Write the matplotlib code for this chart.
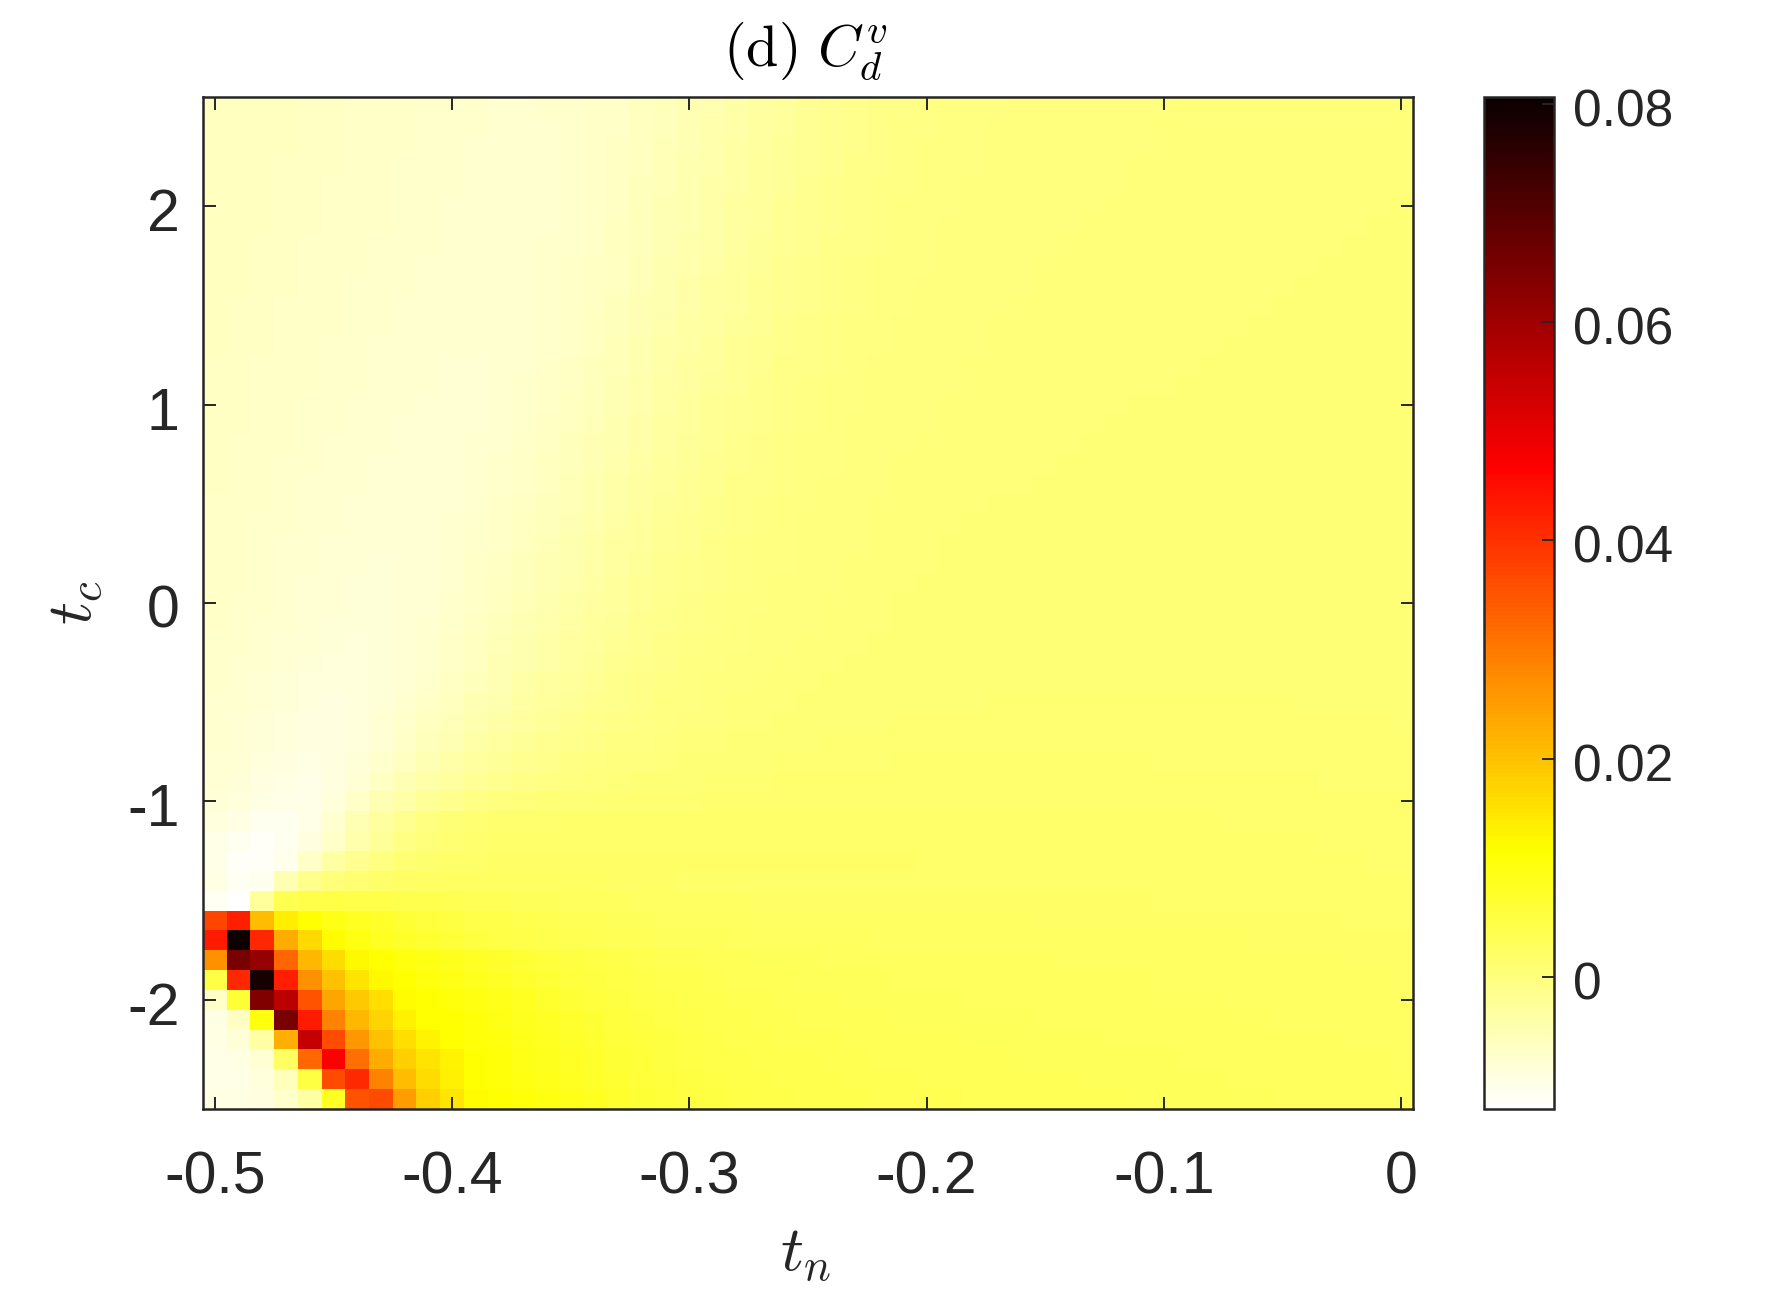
import numpy as np
import matplotlib
matplotlib.use("Agg")
import matplotlib.pyplot as plt
from matplotlib.transforms import ScaledTranslation

# grid of the scan
tn = [round(-0.50 + 0.01 * i, 2) for i in range(51)]
tc = [round(2.5 - 0.1 * i, 1) for i in range(51)]

# C_d^v in units of 1e-4, rows run from tc = 2.5 down to tc = -2.5
cd_rows = [
    [-60,-61,-62,-63,-64,-65,-67,-68,-70,-71, -72,-73,-74,-74,-73,-72,-70,-67,-62,-57, -51,-45,-39,-33,-28,-23,-19,-15,-12,-9, -7,-5,-3,-2,-1,0,0,1,1,2, 2,3,3,3,3,4,4,4,4,5,5],
    [-60,-61,-62,-63,-64,-65,-67,-68,-70,-71, -72,-73,-74,-74,-74,-72,-70,-67,-62,-56, -50,-44,-38,-32,-27,-22,-18,-14,-11,-8, -6,-4,-3,-1,0,0,1,1,2,2, 3,3,3,3,4,4,4,4,5,5,5],
    [-60,-61,-62,-63,-65,-66,-67,-69,-70,-71, -73,-74,-74,-75,-74,-72,-70,-66,-61,-55, -49,-43,-37,-31,-26,-21,-17,-13,-10,-8, -5,-4,-2,-1,0,1,1,2,2,2, 3,3,3,4,4,4,4,5,5,5,5],
    [-60,-61,-62,-64,-65,-66,-68,-69,-71,-72, -73,-74,-75,-75,-74,-72,-69,-65,-60,-54, -48,-42,-36,-30,-25,-20,-16,-12,-9,-7, -5,-3,-2,0,0,1,1,2,2,3, 3,3,3,4,4,4,4,5,5,5,5],
    [-60,-61,-63,-64,-65,-67,-68,-70,-71,-72, -73,-75,-75,-75,-74,-72,-69,-65,-59,-53, -47,-41,-35,-29,-24,-19,-15,-11,-8,-6, -4,-3,-1,0,1,1,2,2,2,3, 3,3,4,4,4,4,5,5,5,5,5],
    [-61,-62,-63,-64,-66,-67,-69,-70,-71,-73, -74,-75,-75,-75,-74,-72,-68,-64,-58,-52, -46,-40,-34,-28,-23,-18,-14,-11,-8,-5, -3,-2,-1,0,1,2,2,2,3,3, 3,4,4,4,4,5,5,5,5,5,6],
    [-61,-62,-63,-65,-66,-68,-69,-70,-72,-73, -74,-75,-76,-75,-74,-71,-68,-63,-57,-51, -45,-39,-33,-27,-22,-17,-13,-10,-7,-5, -3,-1,0,1,1,2,2,3,3,3, 4,4,4,4,5,5,5,5,5,6,6],
    [-61,-62,-64,-65,-67,-68,-69,-71,-72,-73, -75,-76,-76,-75,-73,-71,-67,-62,-56,-50, -44,-38,-32,-26,-21,-16,-12,-9,-6,-4, -2,-1,0,1,2,2,3,3,3,4, 4,4,4,5,5,5,5,5,6,6,6],
    [-62,-63,-64,-66,-67,-69,-70,-71,-73,-74, -75,-76,-76,-75,-73,-70,-66,-61,-55,-48, -42,-36,-30,-24,-19,-15,-11,-8,-5,-3, -2,0,1,1,2,3,3,3,4,4, 4,4,5,5,5,5,5,6,6,6,6],
    [-62,-63,-65,-66,-68,-69,-71,-72,-73,-75, -76,-76,-76,-75,-73,-70,-65,-60,-53,-47, -40,-34,-28,-23,-18,-14,-10,-7,-4,-3, -1,0,1,2,2,3,3,4,4,4, 4,5,5,5,5,5,6,6,6,6,6],
    [-62,-64,-65,-67,-68,-70,-71,-73,-74,-75, -76,-77,-76,-75,-72,-69,-64,-58,-52,-45, -39,-32,-27,-22,-17,-13,-9,-6,-4,-2, -1,1,1,2,3,3,4,4,4,4, 5,5,5,5,5,6,6,6,6,6,6],
    [-63,-64,-66,-67,-69,-70,-72,-73,-75,-76, -77,-77,-76,-74,-72,-68,-63,-57,-50,-43, -37,-31,-25,-20,-15,-11,-8,-5,-3,-1, 0,1,2,3,3,4,4,4,4,5, 5,5,5,5,6,6,6,6,6,6,6],
    [-63,-65,-66,-68,-69,-71,-72,-74,-75,-76, -77,-77,-76,-74,-71,-67,-61,-55,-48,-41, -35,-29,-23,-18,-14,-10,-7,-4,-2,0, 1,2,2,3,4,4,4,4,5,5, 5,5,5,6,6,6,6,6,6,6,6],
    [-64,-65,-67,-68,-70,-71,-73,-74,-76,-77, -78,-78,-76,-74,-70,-65,-59,-53,-46,-39, -33,-27,-21,-17,-12,-9,-6,-3,-1,0, 1,2,3,3,4,4,5,5,5,5, 5,5,6,6,6,6,6,6,6,6,6],
    [-64,-65,-67,-69,-70,-72,-73,-75,-76,-77, -78,-78,-76,-73,-69,-64,-58,-51,-44,-37, -31,-25,-20,-15,-11,-8,-5,-3,-1,1, 2,2,3,4,4,4,5,5,5,5, 5,6,6,6,6,6,6,6,6,6,6],
    [-65,-66,-68,-69,-71,-72,-74,-75,-77,-78, -79,-78,-76,-72,-68,-62,-56,-49,-42,-35, -29,-23,-18,-14,-10,-7,-4,-2,0,1, 2,3,3,4,4,5,5,5,5,6, 6,6,6,6,6,6,6,6,6,6,6],
    [-65,-66,-68,-70,-71,-73,-75,-76,-78,-79, -79,-78,-75,-71,-66,-60,-54,-47,-40,-33, -27,-22,-17,-13,-9,-6,-4,-1,0,2, 2,3,4,4,5,5,5,5,6,6, 6,6,6,6,6,6,6,6,6,6,6],
    [-65,-67,-69,-70,-72,-74,-75,-77,-79,-79, -79,-77,-74,-70,-65,-59,-52,-45,-38,-31, -25,-20,-15,-11,-8,-5,-3,-1,1,2, 3,4,4,5,5,5,5,6,6,6, 6,6,6,6,6,7,7,7,7,7,7],
    [-66,-67,-69,-71,-73,-75,-76,-78,-79,-80, -79,-77,-73,-68,-63,-57,-50,-43,-36,-29, -24,-18,-14,-10,-7,-4,-2,0,1,3, 3,4,5,5,5,5,6,6,6,6, 6,6,6,7,7,7,7,7,7,7,7],
    [-66,-68,-70,-72,-74,-75,-77,-79,-80,-80, -78,-75,-72,-67,-61,-55,-48,-41,-34,-27, -22,-17,-12,-9,-6,-3,-1,1,2,3, 4,4,5,5,5,6,6,6,6,6, 6,7,7,7,7,7,7,7,7,7,7],
    [-67,-68,-70,-72,-74,-76,-78,-79,-80,-80, -78,-75,-70,-65,-59,-53,-46,-39,-32,-25, -20,-15,-11,-8,-5,-2,0,1,3,4, 4,5,5,6,6,6,6,6,7,7, 7,7,7,7,7,7,7,7,7,7,7],
    [-67,-69,-71,-73,-75,-77,-79,-80,-81,-80, -77,-73,-68,-63,-57,-50,-43,-36,-29,-23, -18,-13,-10,-6,-4,-1,0,2,3,4, 5,5,6,6,6,6,6,7,7,7, 7,7,7,7,7,7,7,7,7,7,7],
    [-68,-69,-72,-74,-76,-78,-80,-81,-81,-79, -76,-72,-67,-61,-55,-48,-41,-34,-27,-21, -16,-12,-8,-5,-3,0,1,2,4,4, 5,6,6,6,6,7,7,7,7,7, 7,7,7,7,7,7,7,7,7,7,7],
    [-68,-70,-72,-75,-77,-79,-81,-82,-81,-79, -75,-70,-65,-59,-52,-45,-38,-31,-25,-19, -14,-10,-7,-4,-2,0,2,3,4,5, 5,6,6,6,7,7,7,7,7,7, 7,7,7,8,8,8,8,8,8,8,8],
    [-68,-70,-73,-75,-78,-80,-82,-82,-81,-78, -74,-69,-63,-57,-50,-43,-36,-29,-23,-17, -13,-9,-6,-3,-1,1,2,3,5,5, 6,6,6,7,7,7,7,7,7,7, 8,8,8,8,8,8,8,8,8,8,8],
    [-69,-71,-73,-76,-79,-81,-83,-83,-81,-78, -73,-67,-61,-54,-47,-40,-33,-27,-21,-15, -11,-7,-5,-2,0,1,3,4,5,6, 6,6,7,7,7,7,7,8,8,8, 8,8,8,8,8,8,8,8,8,8,8],
    [-70,-72,-74,-77,-80,-82,-84,-84,-81,-77, -71,-65,-58,-51,-44,-37,-30,-24,-18,-13, -9,-6,-3,-1,1,2,3,5,5,6, 7,7,7,7,8,8,8,8,8,8, 8,8,8,8,8,8,8,8,8,8,8],
    [-71,-73,-75,-78,-81,-84,-85,-84,-81,-75, -69,-62,-55,-48,-41,-34,-27,-21,-16,-11, -7,-4,-2,0,2,3,4,5,6,7, 7,7,8,8,8,8,8,8,8,8, 8,8,8,8,9,9,9,9,9,9,9],
    [-72,-74,-77,-80,-83,-85,-86,-84,-80,-74, -67,-60,-52,-45,-38,-31,-24,-18,-13,-9, -5,-3,0,1,3,4,5,6,7,7, 8,8,8,8,8,8,9,9,9,9, 9,9,9,9,9,9,9,9,9,9,9],
    [-73,-75,-78,-82,-85,-87,-87,-84,-78,-71, -64,-56,-49,-41,-34,-27,-21,-15,-11,-7, -4,-1,1,3,4,5,6,7,7,8, 8,9,9,9,9,9,9,9,9,9, 9,9,9,9,9,9,9,9,9,9,9],
    [-74,-76,-80,-84,-87,-89,-88,-83,-76,-68, -60,-52,-45,-37,-30,-24,-18,-13,-9,-5, -2,1,3,4,5,6,7,8,8,9, 9,9,9,10,10,10,10,10,10,10, 10,10,10,10,10,10,9,9,9,9,9],
    [-75,-78,-82,-86,-89,-90,-88,-81,-72,-63, -55,-47,-39,-32,-25,-19,-14,-10,-6,-3, 0,2,4,5,7,7,8,9,9,10, 10,10,11,11,11,11,11,11,11,11, 11,11,10,10,10,10,10,10,10,10,9],
    [-76,-79,-84,-88,-91,-91,-87,-78,-68,-58, -49,-41,-33,-26,-19,-14,-9,-5,-2,1, 3,5,6,7,8,9,10,10,11,11, 12,12,12,12,12,12,12,12,12,12, 12,11,11,11,11,11,11,10,10,10,10],
    [-78,-81,-87,-91,-94,-92,-84,-72,-60,-49, -40,-33,-25,-19,-13,-8,-4,-1,2,4, 6,7,8,9,10,11,11,12,12,13, 13,13,13,13,13,13,13,13,13,13, 12,12,12,12,12,11,11,11,11,11,10],
    [-80,-83,-90,-94,-96,-92,-80,-65,-52,-41, -31,-23,-16,-10,-6,-2,1,4,6,8, 9,10,11,12,13,13,14,14,14,14, 14,14,14,14,14,14,14,14,14,14, 14,13,13,13,13,13,13,12,12,12,12],
    [-83,-87,-93,-97,-97,-88,-68,-52,-38,-26, -15,-7,-1,3,6,8,9,10,11,12, 12,13,14,14,15,15,16,16,16,16, 16,16,16,16,16,16,16,16,15,15, 15,15,15,15,14,14,14,14,13,13,13],
    [-87,-93,-104,-104,-96,-76,-50,-33,-16,-3, 7,11,14,15,16,17,17,18,18,19, 19,19,19,19,19,19,19,19,18,18, 18,18,18,18,18,18,18,18,17,17, 17,17,17,16,16,16,16,15,15,15,14],
    [-97,-106,-111,-106,-89,-68,-44,-26,-7,5, 12,15,17,18,19,19,20,20,20,20, 20,20,20,20,20,20,20,20,20,19, 19,19,19,19,19,19,19,18,18,18, 18,18,18,17,17,17,17,16,16,16,15],
    [-97,-113,-113,-100,-68,-36,-16,-2,10,16, 18,20,22,22,22,22,22,22,22,22, 22,22,22,22,21,21,21,21,21,21, 20,20,20,20,20,20,20,19,19,19, 19,19,18,18,18,18,17,17,17,16,16],
    [-93,-108,-106,-49,-14,3,12,18,22,24, 26,27,27,27,26,25,24,23,22,21, 20,20,19,19,19,19,19,19,19,19, 19,19,19,20,20,20,20,20,20,20, 20,20,19,19,19,18,18,18,18,18,17],
    [-107,-121,-28,41,49,50,49,47,45,42, 40,38,36,34,32,31,30,28,27,26, 25,24,24,23,23,22,22,22,21,21, 21,21,21,21,21,21,21,21,21,21, 20,20,20,20,20,19,19,19,19,18,18],
    [371,423,205,139,111,96,82,75,67,60, 53,49,46,43,41,38,36,34,33,31, 30,29,28,27,27,26,26,25,25,24, 24,24,24,24,24,23,23,23,23,23, 23,22,22,22,22,21,21,21,20,20,20],
    [430,800,412,229,167,120,98,85,76,68, 61,55,50,47,44,41,39,37,36,34, 33,32,31,30,29,29,28,28,27,27, 27,26,26,26,26,25,25,25,25,25, 24,24,24,24,23,23,23,22,22,22,21],
    [267,653,611,326,215,163,125,111,103,95, 88,80,72,66,60,55,50,46,43,41, 39,37,36,34,33,32,31,31,30,30, 29,29,28,28,28,28,27,27,27,26, 26,26,25,25,25,24,24,24,23,23,22],
    [50,412,785,423,267,198,153,125,111,102, 95,88,80,72,65,59,54,50,47,44, 42,40,38,37,36,34,33,33,32,31, 31,30,30,30,29,29,29,28,28,28, 27,27,27,26,26,25,25,25,24,24,23],
    [-70,65,642,562,350,240,187,160,118,111, 106,98,90,82,74,66,60,55,51,48, 44,42,40,39,37,36,35,34,34,33, 33,32,31,31,31,30,30,30,29,29, 29,28,28,27,27,26,26,26,25,25,24],
    [-93,-64,103,653,430,285,215,173,135,111, 111,104,96,88,80,72,65,60,55,51, 47,45,43,41,39,38,37,36,35,34, 34,33,33,32,32,31,31,31,30,30, 30,29,29,28,28,27,27,27,26,26,25],
    [-93,-83,-35,225,548,364,257,198,160,131, 111,106,100,92,84,76,69,63,58,54, 50,47,45,43,41,40,39,38,37,36, 35,35,34,33,33,32,32,32,31,31, 31,30,30,29,29,28,28,28,27,27,26],
    [-97,-93,-78,24,323,472,316,229,180,153, 131,111,104,96,88,80,72,66,61,56, 52,49,47,45,43,42,41,39,38,38, 37,36,36,35,34,34,33,33,32,32, 32,31,31,30,30,29,29,29,28,28,27],
    [-97,-97,-86,-56,53,361,408,285,208,163, 135,111,105,98,90,82,75,69,63,58, 54,51,49,47,45,44,42,41,40,39, 38,38,37,36,36,35,35,34,34,33, 33,32,32,31,31,30,30,30,29,29,28],
    [-93,-93,-89,-71,-35,82,350,364,250,180, 149,120,111,104,97,90,82,74,67,61, 56,53,50,48,46,45,43,42,41,40, 39,39,38,38,37,36,36,35,35,34, 34,33,33,32,32,31,31,31,30,30,29],
]

x_ticks = [-0.5, -0.4, -0.3, -0.2, -0.1, 0]
x_labels = ["-0.5", "-0.4", "-0.3", "-0.2", "-0.1", "0"]
y_ticks = [-2, -1, 0, 1, 2]
y_labels = ["-2", "-1", "0", "1", "2"]
cb_ticks = [0, 0.02, 0.04, 0.06, 0.08]
cb_labels = ["0", "0.02", "0.04", "0.06", "0.08"]
c_min, c_max = -0.0121, 0.0806

DARK = "#262626"
W, H = 1782, 1291

plt.rcParams["font.family"] = "Liberation Sans"
plt.rcParams["mathtext.fontset"] = "cm"

Z = np.array(cd_rows) * 1e-4
dx = (tn[1] - tn[0]) / 2
dy = (tc[0] - tc[1]) / 2

fig = plt.figure(figsize=(W / 100, H / 100), dpi=100)
ax = fig.add_axes([203.3 / W, 1 - 1109 / H, 1209.4 / W, 1012 / H])
im = ax.imshow(Z, cmap="hot_r", vmin=c_min, vmax=c_max, aspect="auto",
               interpolation="nearest", origin="upper",
               extent=[tn[0] - dx, tn[-1] + dx, tc[-1] - dy, tc[0] + dy])

ax.set_xticks(x_ticks, x_labels)
ax.set_yticks(y_ticks, y_labels)
ax.tick_params(axis="both", direction="in", top=True, right=True, length=9, width=1.4,
               color=DARK, labelcolor=DARK, labelsize=42.5)
ax.tick_params(axis="x", pad=30)
ax.tick_params(axis="y", pad=17)
for s in ax.spines.values():
    s.set_linewidth(1.8)
    s.set_color(DARK)

ax.set_xlabel(r"$t_n$", fontsize=46, color=DARK)
ax.xaxis.set_label_coords(0.4975, -0.1145)
ax.set_ylabel(r"$t_c$", fontsize=46, color=DARK)
ax.yaxis.set_label_coords(-0.0805, 0.5)
ax.set_title(r"$\mathrm{(d)}\ C_d^v$", fontsize=42, color="black", pad=22, x=0.4975)

# colorbar on its own axes
cax = fig.add_axes([1484 / W, 1 - 1109 / H, 70 / W, 1012 / H])
cb = fig.colorbar(im, cax=cax)
cb.set_ticks(cb_ticks, labels=cb_labels)
cb.ax.tick_params(direction="in", length=9, width=1.4, color=DARK, labelcolor=DARK,
                  labelsize=37, pad=13.5)
cb.outline.set_linewidth(1.8)
cb.outline.set_edgecolor(DARK)

# number labels sit a little below their ticks
nudge = ScaledTranslation(0, -2.5 / 72, fig.dpi_scale_trans)
for lab in ax.get_yticklabels() + cb.ax.get_yticklabels():
    lab.set_transform(lab.get_transform() + nudge)

fig.savefig("out.png", dpi=100)
